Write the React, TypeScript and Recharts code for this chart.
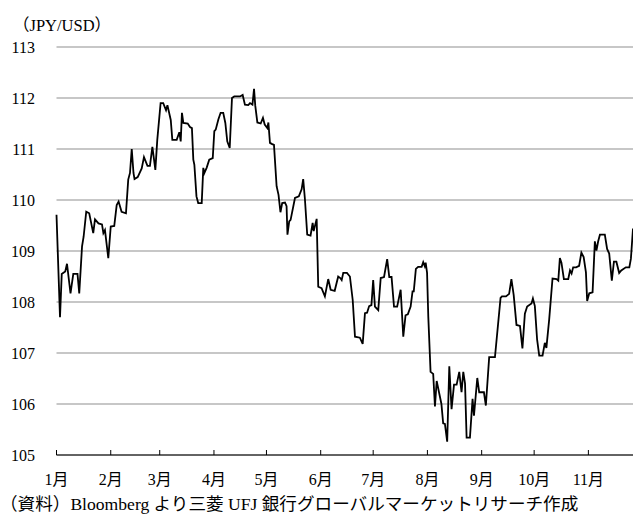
import React from "react";
import { LineChart, Line, XAxis, YAxis, CartesianGrid } from "recharts";

// day of year (0 = Jan 1, 2019) and USD/JPY rate
const days: number[] = [
  0, 2, 3, 5, 6, 8, 9.6, 12, 13, 14.6, 15.5, 17, 18.7, 21, 22, 24, 26, 26.8, 27.7, 29.6,
  31, 33, 34.4, 35.5, 37.2, 39.7, 41, 42, 43, 44, 44.6, 46.4, 48.7, 50, 52, 53.4, 54.8, 56.5, 57.6, 59.5,
  61, 62.6, 63.4, 65.3, 66.2, 68.7, 70.2, 71, 71.7, 72.5, 75, 76.3, 77.4, 78.2, 78.8, 80, 81, 83, 83.9, 84.5,
  85.8, 87.3, 89.3, 90.2, 91, 92.5, 93.8, 95.3, 96.5, 97.6, 99, 100.3, 101.6, 104.9, 106.4, 107.7, 109.6, 110.6, 112, 112.9,
  113.6, 114.8, 116.7, 118, 119, 120.5, 121.1, 122, 123, 124.3, 125.8, 126.9, 128, 129, 130.6, 131.5, 132, 133, 133.8, 136.3,
  138.5, 140.1, 141, 142, 143.3, 145.2, 146.4, 147, 148.7, 149.6, 151.5, 153.4, 155.3, 156.7, 159, 161, 162.2, 163, 163.9, 166,
  167.7, 169.3, 170.6, 173.4, 175, 176.3, 177.5, 178.7, 180, 181, 182, 183.9, 185.3, 187.2, 189, 190.2, 191.5, 192.9, 194.7, 196.7,
  198.2, 199.5, 200.8, 202.4, 203.5, 204.2, 205.4, 206.7, 208.7, 209.6, 210.5, 211, 211.8, 212.5, 213.8, 215.3, 216.3, 217.3, 218.8, 220,
  221, 222, 223.3, 224.5, 225.8, 227.2, 228.7, 230.2, 231.5, 232.5, 233.5, 234.4, 236.3, 237.8, 238.6, 240.5, 241.6, 244.3, 245.4, 247.3,
  250.6, 253.8, 254.6, 256.9, 258.7, 260, 261.3, 262.9, 264.9, 266.3, 267.7, 269, 271.5, 272.3, 273.4, 274.7, 275.9, 277.8, 279.1, 280,
  281.6, 283.5, 285.8, 286.8, 287.7, 288.6, 290, 292.5, 293.5, 294.4, 295.3, 297, 298.7, 300, 301.3, 302.6, 303.3, 304.5, 306.4, 307.7,
  308.6, 309.6, 310.6, 313.4, 314.7, 315.9, 317.4, 318.6, 320, 321.6, 322.8, 325.4, 327.4, 328.3, 329.5,
];

const rates: number[] = [
  109.71, 107.7, 108.55, 108.6, 108.75, 108.17, 108.55, 108.55, 108.17, 109.09, 109.28, 109.77, 109.74, 109.35, 109.62, 109.54, 109.52, 109.35, 109.41, 108.86,
  109.48, 109.49, 109.9, 109.97, 109.77, 109.74, 110.4, 110.53, 111.0, 110.53, 110.41, 110.45, 110.62, 110.84, 110.67, 110.67, 111.04, 110.59, 111.18, 111.9,
  111.9, 111.76, 111.86, 111.57, 111.18, 111.18, 111.33, 111.15, 111.71, 111.51, 111.5, 111.43, 111.41, 110.79, 110.69, 110.07, 109.94, 109.94, 110.63, 110.53,
  110.63, 110.79, 110.82, 111.35, 111.38, 111.58, 111.71, 111.71, 111.51, 111.15, 111.02, 112.0, 112.03, 112.03, 112.06, 111.87, 111.86, 111.9, 111.87, 112.18,
  111.85, 111.52, 111.5, 111.61, 111.48, 111.41, 111.52, 111.12, 111.1, 111.08, 110.27, 110.1, 109.76, 109.94, 109.95, 109.88, 109.32, 109.58, 109.61, 110.04,
  110.07, 110.21, 110.41, 110.01, 109.32, 109.3, 109.55, 109.39, 109.63, 108.3, 108.27, 108.11, 108.45, 108.24, 108.22, 108.5, 108.47, 108.43, 108.57, 108.57,
  108.5, 108.04, 107.32, 107.3, 107.18, 107.78, 107.79, 107.92, 107.94, 108.43, 107.91, 107.84, 108.47, 108.49, 108.84, 108.49, 108.49, 107.91, 107.91, 108.24,
  107.32, 107.74, 107.76, 107.91, 108.21, 108.21, 108.65, 108.69, 108.69, 108.78, 108.7, 108.77, 108.57, 107.71, 106.63, 106.59, 105.95, 106.45, 106.2, 106.0,
  105.62, 105.61, 105.26, 106.74, 105.9, 106.38, 106.38, 106.63, 106.23, 106.63, 106.4, 105.34, 105.34, 106.1, 105.77, 106.51, 106.23, 106.23, 105.97, 106.92,
  106.92, 108.08, 108.11, 108.11, 108.16, 108.45, 108.14, 107.55, 107.53, 107.09, 107.77, 107.91, 107.97, 108.07, 107.92, 107.26, 106.95, 106.95, 107.2, 107.1,
  107.66, 108.46, 108.45, 108.42, 108.86, 108.77, 108.45, 108.45, 108.62, 108.56, 108.68, 108.68, 108.71, 108.97, 108.88, 108.58, 108.02, 108.17, 108.19, 109.19,
  109.01, 109.19, 109.32, 109.32, 109.04, 108.95, 108.42, 108.79, 108.79, 108.57, 108.62, 108.68, 108.68, 108.85, 109.44,
];

const monthStarts: number[] = [0, 31, 59, 90, 120, 151, 181, 212, 243, 273, 304];
const monthLabels: string[] = ["1月", "2月", "3月", "4月", "5月", "6月", "7月", "8月", "9月", "10月", "11月"];
const yTicks: number[] = [105, 106, 107, 108, 109, 110, 111, 112, 113];

const unitLabel = "（JPY/USD）";
const sourceNote = "（資料）Bloomberg より三菱 UFJ 銀行グローバルマーケットリサーチ作成";

const data = days.map((d, i) => ({ day: d, rate: rates[i] }));

const FONT = "'Liberation Serif', 'Noto Sans CJK JP', serif";
const X_LABEL_GAP = 24;

const XTick = (props: any) => {
  const { x, y, payload } = props;
  const idx = monthStarts.indexOf(payload.value);
  const axisY = y - X_LABEL_GAP;
  return (
    <g>
      <line x1={x} x2={x} y1={axisY} y2={axisY - 5} stroke="#000" strokeWidth={1} />
      <text x={x} y={y} dy="0.355em" textAnchor="middle" fontSize={16} fontFamily={FONT} fill="#000">
        {idx >= 0 ? monthLabels[idx] : ""}
      </text>
    </g>
  );
};

export default function App() {
  return (
    <div
      style={{
        position: "fixed",
        left: 0,
        top: 0,
        width: 633,
        height: 516,
        overflow: "hidden",
        background: "#fff",
      }}
    >
      <LineChart
        width={633}
        height={516}
        data={data}
        margin={{ top: 47, right: 0, bottom: 31, left: 0 }}
      >
        <CartesianGrid vertical={false} stroke="#8f8f8f" strokeWidth={1.2} />
        <XAxis
          dataKey="day"
          type="number"
          domain={[0, 329.5]}
          ticks={monthStarts}
          interval={0}
          height={30}
          tickSize={0}
          tickMargin={X_LABEL_GAP}
          axisLine={{ stroke: "#000", strokeWidth: 1 }}
          tickLine={false}
          tick={<XTick />}
        />
        <YAxis
          type="number"
          domain={[105, 113]}
          ticks={yTicks}
          width={56.5}
          axisLine={false}
          tickLine={false}
          tickSize={0}
          tickMargin={21.5}
          tick={{ fontSize: 16, fontFamily: FONT, fill: "#000" }}
        />
        <Line
          dataKey="rate"
          type="linear"
          stroke="#000"
          strokeWidth={1.8}
          dot={false}
          isAnimationActive={false}
        />
      </LineChart>
      <svg
        width={633}
        height={516}
        style={{ position: "absolute", left: 0, top: 0, pointerEvents: "none" }}
      >
        <text x={13} y={31} fontSize={16.5} fontFamily={FONT} fill="#000">
          {unitLabel}
        </text>
        <text x={0} y={510} fontSize={17.6} fontFamily={FONT} fill="#000">
          {sourceNote}
        </text>
      </svg>
    </div>
  );
}
